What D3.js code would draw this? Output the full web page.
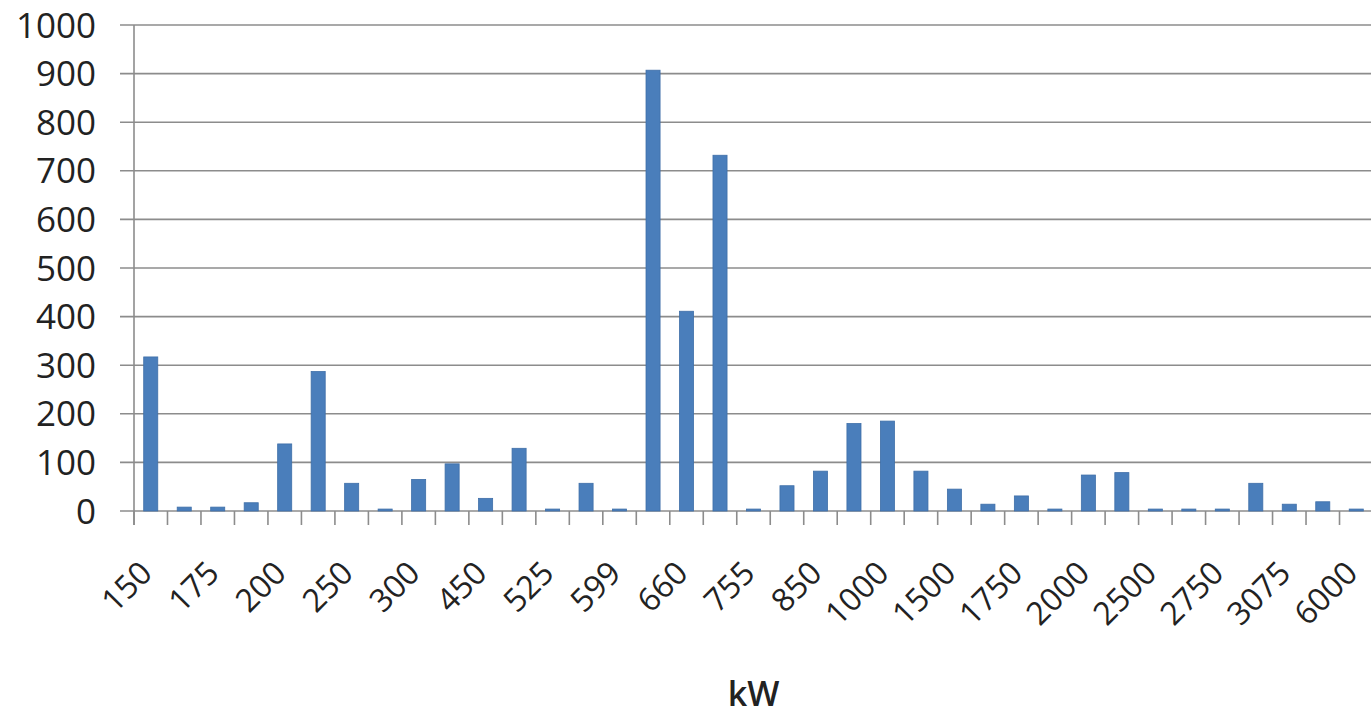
<!DOCTYPE html>
<html><head><meta charset="utf-8">
<script src="https://cdn.jsdelivr.net/npm/d3@7/dist/d3.min.js"></script>
<style>body{margin:0;background:#fff;} svg{display:block;font-family:"Open Sans",sans-serif;}</style>
</head><body>
<svg id="chart" width="1371" height="720"></svg>
<script>
const categories = ["150","160","175","180","200","225","250","275","300","400","450","500","525","550","599","600","660","750","755","800","850","900","1000","1300","1500","1650","1750","1800","2000","2300","2500","2600","2750","3000","3075","3600","6000"];
const values = [317,8,8,17,138,287,57,4,65,97,26,129,4,57,4,907,411,732,4,52,82,180,185,82,45,14,31,4,74,79,4,4,4,57,14,19,4];
const yTicks = [0,100,200,300,400,500,600,700,800,900,1000];
const xTitle = "kW";

const svg = d3.select("#chart");
const m = {left:134, right:1373, top:25, bottom:511};
const x = d3.scaleBand().domain(d3.range(categories.length)).range([m.left, m.right]).paddingInner(0.58).paddingOuter(0.29);
const xb = d3.scaleBand().domain(d3.range(categories.length)).range([m.left, m.right]);
const y = d3.scaleLinear().domain([0,1000]).range([m.bottom, m.top]);

// gridlines + y labels
const gy = svg.append("g");
gy.selectAll("line").data(yTicks).join("line")
  .attr("x1", m.left-14).attr("x2", m.right).attr("y1", d=>y(d)).attr("y2", d=>y(d))
  .attr("stroke", "#8c8c8c").attr("stroke-width", 1.6);
gy.selectAll("text").data(yTicks).join("text")
  .attr("x", 96).attr("y", d=>y(d)).attr("dy","0.36em").attr("text-anchor","end")
  .attr("font-size", 35).attr("fill","#222").text(d=>d);

// y axis line
svg.append("line").attr("x1", m.left).attr("x2", m.left).attr("y1", m.top).attr("y2", m.bottom+14)
  .attr("stroke","#8c8c8c").attr("stroke-width",1.6);

// x ticks at category boundaries
const bounds = d3.range(categories.length+1).map(i => i < categories.length ? xb(i) : xb(categories.length-1)+xb.bandwidth());
svg.append("g").selectAll("line").data(bounds).join("line")
  .attr("x1", d=>d).attr("x2", d=>d).attr("y1", m.bottom).attr("y2", m.bottom+14)
  .attr("stroke","#8c8c8c").attr("stroke-width",1.6);

// bars
svg.append("g").selectAll("rect").data(values).join("rect")
  .attr("x", (d,i)=>x(i)).attr("width", x.bandwidth())
  .attr("y", d=>y(d)).attr("height", d=>m.bottom - y(d))
  .attr("fill","#4a7ebb").attr("stroke","#3f6fa8").attr("stroke-width",0.8);

// x labels every other category
svg.append("g").selectAll("text").data(categories.map((c,i)=>({c,i})).filter(d=>d.i%2===0)).join("text")
  .attr("transform", d=>`translate(${xb(d.i)+xb.bandwidth()/2-5},${m.bottom+56}) rotate(-45)`)
  .attr("text-anchor","end").attr("dy","0.36em").attr("font-size", 32).attr("fill","#222")
  .text(d=>d.c);

// title
svg.append("text").attr("x", (m.left+m.right)/2).attr("y", 706).attr("text-anchor","middle")
  .attr("font-size", 34).attr("font-weight", 600).attr("fill","#222").text(xTitle);
</script>
</body></html>
